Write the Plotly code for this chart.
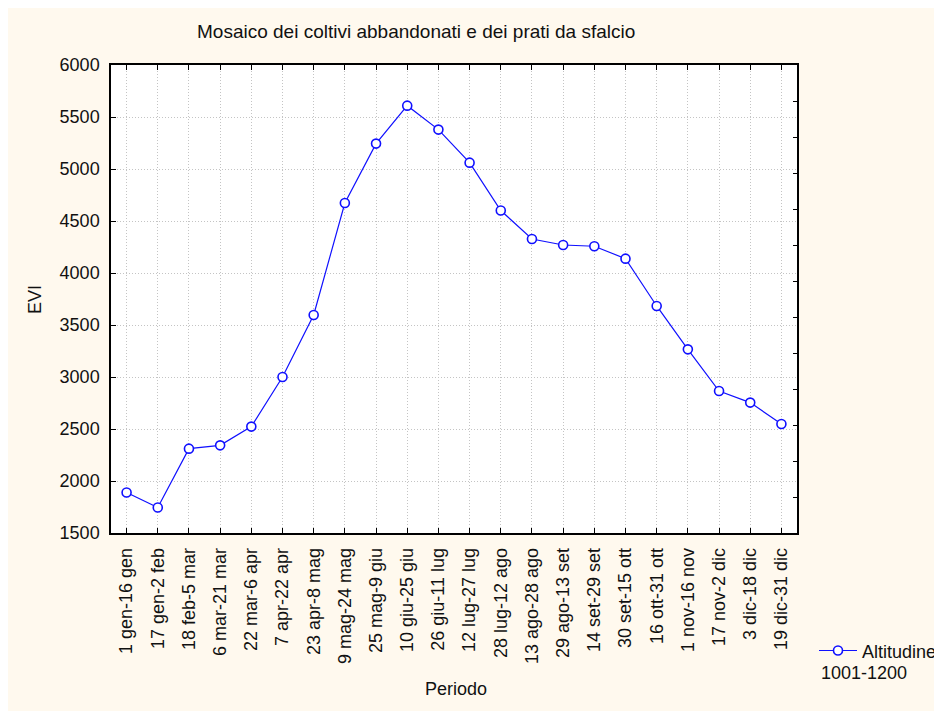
import plotly.graph_objects as go

periods = ["1 gen-16 gen", "17 gen-2 feb", "18 feb-5 mar", "6 mar-21 mar", "22 mar-6 apr",
           "7 apr-22 apr", "23 apr-8 mag", "9 mag-24 mag", "25 mag-9 giu", "10 giu-25 giu",
           "26 giu-11 lug", "12 lug-27 lug", "28 lug-12 ago", "13 ago-28 ago", "29 ago-13 set",
           "14 set-29 set", "30 set-15 ott", "16 ott-31 ott", "1 nov-16 nov", "17 nov-2 dic",
           "3 dic-18 dic", "19 dic-31 dic"]
evi = [1890, 1745, 2311, 2343, 2523, 3000, 3596, 4673, 5244, 5609, 5379, 5061,
       4601, 4327, 4269, 4257, 4138, 3683, 3266, 2865, 2754, 2548]
yticks = [1500, 2000, 2500, 3000, 3500, 4000, 4500, 5000, 5500, 6000]

FONT = "Liberation Sans, Arial, sans-serif"
OFF = 8  # page body margin
W, H = 942 - OFF, 711 - OFF
# plot area in reference screen pixels, converted to figure pixels
L, R, T, B = 111 - OFF, 797 - OFF, 64.5 - OFF, 533.5 - OFF
pw, ph = R - L, B - T


def px(x):
    return (x - OFF - L) / pw


def py(y):
    return (B - (y - OFF)) / ph


fig = go.Figure()
fig.add_trace(go.Scatter(
    x=periods, y=evi, mode="lines+markers", name="Altitudine",
    line=dict(color="#1010ff", width=1.2),
    marker=dict(symbol="circle", size=9, color="white", line=dict(color="#1010ff", width=1.6)),
))
fig.add_trace(go.Scatter(x=[None], y=[None], yaxis="y2", showlegend=False, hoverinfo="skip"))

fig.update_layout(
    width=W, height=H,
    margin=dict(l=L, r=W - R, t=T, b=H - B, autoexpand=False),
    paper_bgcolor="#fff9ee", plot_bgcolor="white",
    font=dict(family=FONT, size=18, color="#111111"),
    showlegend=True,
    legend=dict(x=px(814), y=py(633), xanchor="left", yanchor="top",
                bgcolor="rgba(0,0,0,0)", font=dict(size=18), itemwidth=38),
    xaxis=dict(
        type="category", categoryorder="array", categoryarray=periods,
        range=[-0.5, len(periods) - 0.5],
        showgrid=True, gridcolor="#c4c4c4", griddash="1px,2px", gridwidth=1,
        ticks="inside", ticklen=5, tickcolor="black", tickwidth=1,
        showline=True, linecolor="black", linewidth=1.5, mirror="ticks",
        tickangle=-90, ticklabelstandoff=6,
        zeroline=False,
    ),
    yaxis=dict(
        range=[1500, 6000], tickvals=yticks, ticktext=[str(v) for v in yticks],
        showgrid=True, gridcolor="#c4c4c4", griddash="1px,2px", gridwidth=1,
        ticks="inside", ticklen=5, tickcolor="black", tickwidth=1,
        showline=True, linecolor="black", linewidth=1.5, mirror=True,
        ticklabelstandoff=6, zeroline=False,
    ),
    yaxis2=dict(
        overlaying="y", side="right", range=[0, 13], dtick=1, showticklabels=False,
        ticks="inside", ticklen=4.5, tickcolor="black", tickwidth=1,
        showgrid=False, zeroline=False, showline=False,
    ),
    annotations=[
        dict(text="Mosaico dei coltivi abbandonati e dei prati da sfalcio",
             xref="paper", yref="paper", x=px(416), y=py(31),
             xanchor="center", yanchor="middle", showarrow=False, font=dict(size=19)),
        dict(text="EVI", xref="paper", yref="paper", x=px(35), y=py(300),
             xanchor="center", yanchor="middle", textangle=-90, showarrow=False, font=dict(size=18)),
        dict(text="Periodo", xref="paper", yref="paper", x=px(456), y=py(690),
             xanchor="center", yanchor="middle", showarrow=False, font=dict(size=18)),
        dict(text="1001-1200", xref="paper", yref="paper", x=px(819), y=py(674),
             xanchor="left", yanchor="middle", showarrow=False, font=dict(size=18)),
    ],
)

fig.write_html("out.html")
